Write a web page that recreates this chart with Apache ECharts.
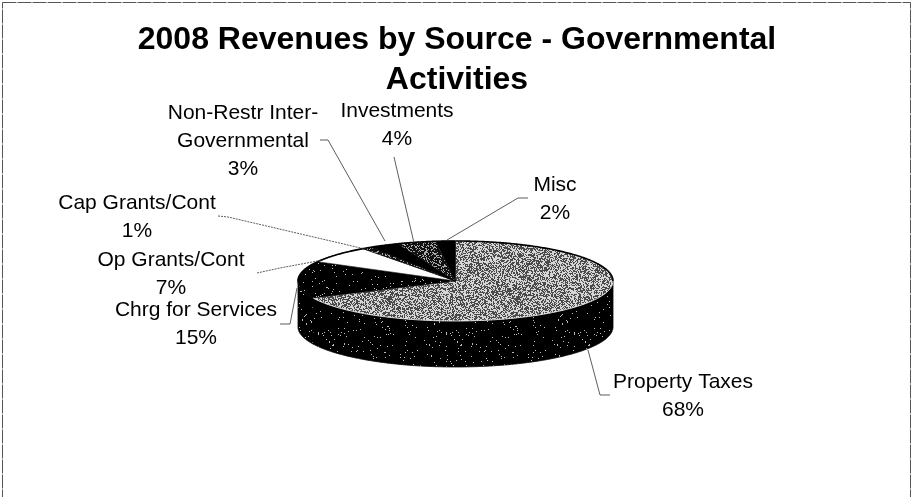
<!DOCTYPE html>
<html>
<head>
<meta charset="utf-8">
<style>html,body{margin:0;padding:0;background:#fff}#chart{width:912px;height:497px}</style>
<script src="https://cdn.jsdelivr.net/npm/echarts@6/dist/echarts.min.js"></script>
</head>
<body>
<div id="chart"></div>
<script>
// Revenue shares, clockwise from twelve o'clock
const categories = ['Property Taxes', 'Chrg for Services', 'Op Grants/Cont', 'Cap Grants/Cont',
  'Non-Restr Inter-\nGovernmental', 'Investments', 'Misc'];
const percents = [68, 15, 7, 1, 3, 4, 2];

// Fill for each slice's top face
const sliceTiles = ['light', 'specks', 'white', 'dark', 'black', 'dark', 'black'];

// Label placement: text centre, first line y, leader line
const labelCentres = [[683, 382], [196, 310], [171, 260], [137, 203], [243, 113], [397, 111], [555, 185]];
const leaders = [
  [[610, 395], [600, 395], [588, 350]],
  [[280, 324], [290, 324], [297, 288]],
  [[257, 273], [280, 268], [323, 260]],
  [[218, 216], [228, 217], [365, 249]],
  [[320, 140], [328, 140], [385, 241]],
  [[394, 157], [414, 243]],
  [[528, 198], [518, 198], [447, 240]]
];

// Pie geometry
const CX = 455.5, CY = 281, RX = 157.5, RY = 40, DEPTH = 46;

// Stipple fills: dark share of each tile and its two inks
const tileSpecs = {
  light: { density: 0.5, ink: '#4a4a4a', paper: '#d6d6d6' },
  dark: { density: 0.7, ink: '#111', paper: '#aaa' },
  specks: { density: 0.975, ink: '#000', paper: '#bbb' },
  white: { density: 0, ink: '#000', paper: '#fff' },
  black: { density: 1, ink: '#000', paper: '#000' }
};
function cellHash(x, y) {
  let h = Math.imul(x + 1, 73856093) ^ Math.imul(y + 1, 19349663);
  h = Math.imul(h ^ (h >>> 13), 1274126177);
  h ^= h >>> 16;
  return (h >>> 0) / 4294967296;
}
function makeTile(spec) {
  const size = 128;
  const c = document.createElement('canvas');
  c.width = c.height = size;
  const g = c.getContext('2d');
  g.fillStyle = spec.paper;
  g.fillRect(0, 0, size, size);
  g.fillStyle = spec.ink;
  for (let y = 0; y < size; y++) {
    for (let x = 0; x < size; x++) {
      if (cellHash(x, y) < spec.density) g.fillRect(x, y, 1, 1);
    }
  }
  return { image: c, repeat: 'repeat' };
}
const fills = {};
Object.keys(tileSpecs).forEach(k => { fills[k] = makeTile(tileSpecs[k]); });

const total = percents.reduce((a, b) => a + b, 0);
const rad = v => v / total * Math.PI * 2;
const rim = (a, dy) => [CX + RX * Math.sin(a), CY - RY * Math.cos(a) + (dy || 0)];
function arc(from, to, dy) {
  const n = Math.max(2, Math.ceil((to - from) / 0.01));
  const pts = [];
  for (let i = 0; i <= n; i++) pts.push(rim(from + (to - from) * i / n, dy));
  return pts;
}

function renderSlice(params, api) {
  const i = params.dataIndex;
  const before = percents.slice(0, i).reduce((a, b) => a + b, 0);
  const start = rad(before);
  const end = rad(before + api.value(0));
  const children = [];
  const tile = sliceTiles[i];

  // Front wall: only the part facing the viewer
  const a = Math.max(start, Math.PI / 2), b = Math.min(end, Math.PI * 1.5);
  if (b > a) {
    children.push({
      type: 'polygon',
      shape: { points: arc(a, b, 0).concat(arc(a, b, DEPTH).reverse()) },
      style: { fill: fills.specks, stroke: '#000', lineWidth: 0.8 },
      z2: 1
    });
  }
  // Top face
  children.push({
    type: 'polygon',
    shape: { points: [[CX, CY]].concat(arc(start, end, 0)) },
    style: { fill: fills[tile], stroke: tile === 'light' ? null : '#000', lineWidth: 0.6 },
    z2: 2
  });
  // Dark back rim over the far half of the ellipse
  const segs = [[start, Math.min(end, Math.PI / 2)], [Math.max(start, Math.PI * 1.5), end]];
  segs.forEach(s => {
    if (s[1] > s[0]) {
      children.push({
        type: 'polyline',
        shape: { points: arc(s[0], s[1], 0) },
        style: { fill: 'none', stroke: '#000', lineWidth: 1.6 },
        z2: 3
      });
    }
  });
  // Pale highlight where the lit face meets the front wall
  if (tile === 'light' && b > a) {
    children.push({
      type: 'polyline',
      shape: { points: arc(a, b, 0) },
      style: { fill: 'none', stroke: '#eee', lineWidth: 0.9 },
      z2: 3
    });
  }
  // Leader and label
  children.push({
    type: 'polyline',
    shape: { points: leaders[i] },
    style: { fill: 'none', stroke: '#333', lineWidth: 0.8, lineDash: (i === 3 || i === 2) ? [2, 1] : null },
    z2: 4
  });
  children.push({
    type: 'text',
    x: labelCentres[i][0],
    y: labelCentres[i][1] - 14,
    style: {
      text: categories[i] + '\n' + api.value(0) + '%',
      font: '21px "Liberation Sans", Arial, sans-serif',
      lineHeight: 28,
      align: 'center',
      verticalAlign: 'top',
      fill: '#000'
    },
    z2: 5
  });
  return { type: 'group', children };
}

const chart = echarts.init(document.getElementById('chart'), null, { renderer: 'canvas' });
chart.setOption({
  animation: false,
  backgroundColor: '#fff',
  title: {
    text: '2008 Revenues by Source - Governmental\nActivities',
    left: 452,
    top: 15,
    textAlign: 'center',
    textStyle: {
      fontFamily: '"Liberation Sans", Arial, sans-serif',
      fontWeight: 'bold',
      fontSize: 32,
      lineHeight: 40,
      color: '#000'
    }
  },
  graphic: [{
    type: 'rect',
    shape: { x: 2.5, y: 2.5, width: 908, height: 520 },
    style: { fill: 'none', stroke: '#555', lineWidth: 1, lineDash: [14, 1] },
    silent: true
  }],
  series: [{
    type: 'custom',
    coordinateSystem: 'none',
    data: percents.map(v => [v]),
    renderItem: renderSlice,
    silent: true
  }]
});
</script>
</body>
</html>
